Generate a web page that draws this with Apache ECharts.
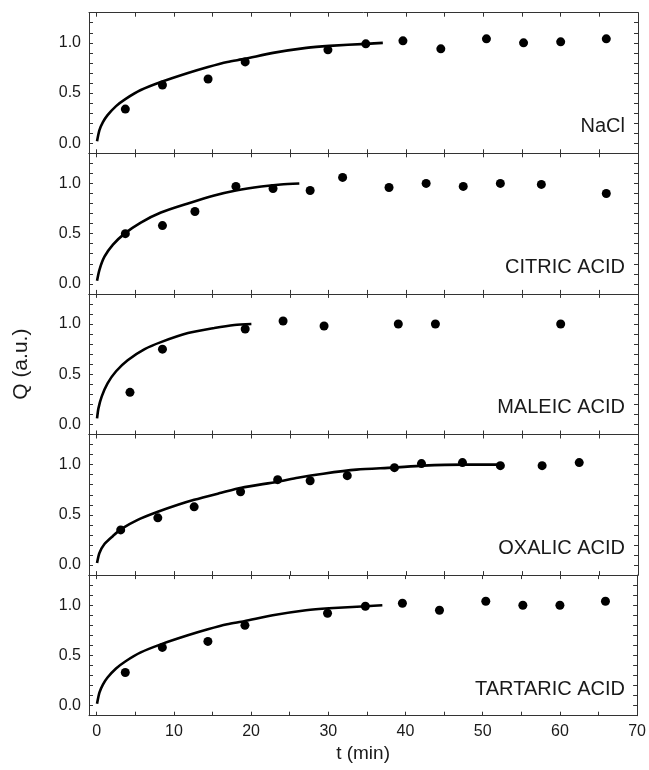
<!DOCTYPE html>
<html>
<head>
<meta charset="utf-8">
<script src="https://cdn.jsdelivr.net/npm/echarts@6/dist/echarts.min.js"></script>
<style>
    html, body { margin: 0; padding: 0; background: #fff; }
    #chart { width: 649px; height: 770px; }
</style>
</head>
<body>
<div id="chart"></div>
<script>
const panelNames = ["NaCl", "CITRIC ACID", "MALEIC ACID", "OXALIC ACID", "TARTARIC ACID"];

// measured points [t (min), Q]
const naclPoints = [[3.7, 0.34], [8.5, 0.58], [14.4, 0.64], [19.2, 0.81], [29.9, 0.93], [34.8, 0.99],
    [39.6, 1.02], [44.5, 0.94], [50.4, 1.04], [55.2, 1.0], [60.0, 1.01], [65.9, 1.04]];
const citricPoints = [[3.7, 0.5], [8.5, 0.58], [12.7, 0.72], [18.0, 0.97], [22.8, 0.95], [27.6, 0.93],
    [31.8, 1.06], [37.8, 0.96], [42.6, 1.0], [47.4, 0.97], [52.2, 1.0], [57.5, 0.99], [65.9, 0.9]];
const maleicPoints = [[4.3, 0.32], [8.5, 0.75], [19.2, 0.95], [24.1, 1.03], [29.4, 0.98],
    [39.0, 1.0], [43.8, 1.0], [60.0, 1.0]];
const oxalicPoints = [[3.1, 0.35], [7.9, 0.47], [12.6, 0.58], [18.6, 0.73], [23.4, 0.85], [27.6, 0.84],
    [32.4, 0.89], [38.5, 0.97], [42.0, 1.01], [47.3, 1.02], [52.2, 0.99], [57.6, 0.99], [62.4, 1.02]];
const tartaricPoints = [[3.7, 0.33], [8.5, 0.58], [14.4, 0.64], [19.2, 0.8], [29.9, 0.92], [34.8, 0.99],
    [39.6, 1.02], [44.4, 0.95], [50.4, 1.04], [55.2, 1.0], [60.0, 1.0], [65.9, 1.04]];

// fitted curves
const naclCurve = [[0.04, 0.02], [0.35, 0.13], [0.8, 0.21], [1.4, 0.28], [2.5, 0.37], [3.7, 0.44],
    [5.7, 0.53], [8.3, 0.61], [11.8, 0.7], [14.4, 0.76], [16.9, 0.81], [19.1, 0.84], [22.8, 0.9],
    [27.1, 0.95], [30.1, 0.97], [34.9, 0.99], [37.0, 1.0]];
const citricCurve = [[0.04, 0.03], [0.35, 0.14], [1.0, 0.27], [2.1, 0.39], [3.6, 0.5], [5.7, 0.61],
    [8.3, 0.71], [11.8, 0.8], [15.2, 0.88], [18.0, 0.93], [21.3, 0.97], [23.8, 0.99], [26.2, 1.0]];
const maleicCurve = [[0.04, 0.06], [0.22, 0.16], [0.65, 0.28], [1.4, 0.41], [2.5, 0.53], [4.0, 0.64],
    [6.2, 0.75], [8.3, 0.82], [11.8, 0.91], [15.2, 0.96], [17.8, 0.99], [20.0, 1.0]];
const oxalicCurve = [[0.04, 0.02], [0.35, 0.12], [1.0, 0.21], [2.1, 0.29], [3.2, 0.36], [5.3, 0.45],
    [7.9, 0.53], [10.5, 0.6], [12.6, 0.65], [16.1, 0.72], [18.7, 0.77], [23.4, 0.83], [26.0, 0.87],
    [29.3, 0.91], [33.6, 0.95], [38.3, 0.97], [42.2, 0.99], [47.4, 1.0], [52.1, 1.0]];
const tartaricCurve = [[0.04, 0.02], [0.35, 0.13], [0.8, 0.21], [1.4, 0.28], [2.5, 0.37], [3.7, 0.44],
    [5.7, 0.53], [8.3, 0.61], [11.8, 0.7], [14.4, 0.76], [16.9, 0.81], [19.1, 0.84], [22.8, 0.9],
    [27.1, 0.95], [30.1, 0.97], [34.9, 0.99], [37.0, 1.0]];

const allPoints = [naclPoints, citricPoints, maleicPoints, oxalicPoints, tartaricPoints];
const allCurves = [naclCurve, citricCurve, maleicCurve, oxalicCurve, tartaricCurve];

// tick values
const xTicks = [0, 10, 20, 30, 40, 50, 60, 70];
const xMinorTicks = [0, 5, 10, 15, 20, 25, 30, 35, 40, 45, 50, 55, 60, 65, 70];
const yTicks = [0, 0.5, 1.0];
const yMinorTicks = [0, 0.1, 0.2, 0.3, 0.4, 0.5, 0.6, 0.7, 0.8, 0.9, 1.0, 1.1, 1.2];

const FONT = "Liberation Sans";
const TEXT = "#1a1a1a";
const LINE = "#333";
const panelTop = 12.7;
const panelH = 140.6;

let myChart = echarts.init(document.getElementById("chart"));

const grid = [], xAxis = [], yAxis = [], series = [], graphic = [];

panelNames.forEach(function (name, i) {
    const top = panelTop + i * panelH;
    const last = i === panelNames.length - 1;
    grid.push({ left: 89, right: 11, top: top, height: panelH });

    // bottom and top x axes
    xAxis.push({
        type: "value", gridIndex: i, position: "bottom", min: -1, max: 70,
        axisLine: { onZero: false, lineStyle: { color: LINE, width: 1 } },
        axisTick: { inside: true, length: 4, customValues: xMinorTicks, lineStyle: { color: LINE } },
        axisLabel: {
            show: last, customValues: xTicks, margin: 8,
            fontFamily: FONT, fontSize: 16, color: TEXT,
        },
        splitLine: { show: false },
        name: last ? "t (min)" : "",
        nameLocation: "middle", nameGap: 29,
        nameTextStyle: { fontFamily: FONT, fontSize: 19, color: TEXT },
    });
    xAxis.push({
        type: "value", gridIndex: i, position: "top", min: -1, max: 70,
        axisLine: { onZero: false, lineStyle: { color: LINE, width: 1 } },
        axisTick: { inside: true, length: 4, customValues: xMinorTicks, lineStyle: { color: LINE } },
        axisLabel: { show: false },
        splitLine: { show: false },
    });

    // left and right y axes
    yAxis.push({
        type: "value", gridIndex: i, position: "left", min: -0.1, max: 1.3,
        axisLine: { show: true, onZero: false, lineStyle: { color: LINE, width: 1 } },
        axisTick: { show: true, inside: true, length: 4, customValues: yMinorTicks, lineStyle: { color: LINE } },
        axisLabel: {
            customValues: yTicks, margin: 8,
            fontFamily: FONT, fontSize: 16, color: TEXT,
            formatter: function (v) { return v.toFixed(1); },
        },
        splitLine: { show: false },
        name: i === 2 ? "Q (a.u.)" : "",
        nameLocation: "middle", nameGap: 57, nameRotate: 90,
        nameTextStyle: { fontFamily: FONT, fontSize: 21, color: TEXT },
    });
    yAxis.push({
        type: "value", gridIndex: i, position: "right", min: -0.1, max: 1.3,
        axisLine: { show: true, onZero: false, lineStyle: { color: LINE, width: 1 } },
        axisTick: { show: true, inside: true, length: 4, customValues: yMinorTicks, lineStyle: { color: LINE } },
        axisLabel: { show: false },
        splitLine: { show: false },
    });

    series.push({
        type: "line", xAxisIndex: i * 2, yAxisIndex: i * 2,
        data: allCurves[i], smooth: 0.25,
        showSymbol: false, silent: true,
        lineStyle: { color: "#000", width: 2.6 },
    });
    series.push({
        type: "scatter", xAxisIndex: i * 2, yAxisIndex: i * 2,
        data: allPoints[i], symbol: "circle", symbolSize: 9,
        itemStyle: { color: "#000", opacity: 1 },
    });

    graphic.push({
        type: "text", right: 24, top: top + 104,
        style: { text: name, font: "20px '" + FONT + "'", fill: TEXT },
    });
});

const option = {
    backgroundColor: "#fff",
    animation: false,
    grid: grid,
    xAxis: xAxis,
    yAxis: yAxis,
    series: series,
    graphic: graphic,
};
myChart.setOption(option);
window.addEventListener("resize", function () {
    myChart.resize();
});
</script>
</body>
</html>
